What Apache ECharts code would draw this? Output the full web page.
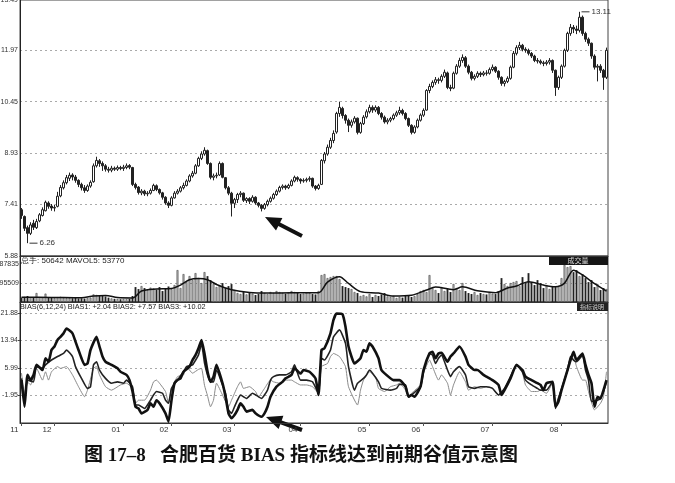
<!DOCTYPE html>
<html><head><meta charset="utf-8">
<script src="https://cdn.jsdelivr.net/npm/echarts@6/dist/echarts.min.js"></script>
<style>html,body{margin:0;padding:0;background:#fff}#c{width:675px;height:483px}</style>
</head><body><div id="c"></div>
<script>
// [open, close, low, high]
const candles = [
[7.25,7.08,6.98,7.30],[7.05,6.70,6.62,7.08],[6.72,6.55,6.26,6.78],[6.55,6.80,6.50,6.88],[6.85,6.73,6.65,6.95],
[6.72,6.90,6.68,6.98],[6.92,7.10,6.88,7.15],[7.08,7.25,7.05,7.32],[7.22,7.47,7.20,7.52],[7.45,7.35,7.28,7.50],
[7.36,7.30,7.22,7.42],[7.30,7.32,7.20,7.40],[7.35,7.65,7.32,7.78],[7.66,7.91,7.62,7.98],[7.90,8.05,7.85,8.12],
[8.05,8.20,8.00,8.28],[8.18,8.27,8.10,8.35],[8.28,8.22,8.12,8.33],[8.22,8.12,8.05,8.28],[8.12,8.00,7.92,8.15],
[8.00,7.90,7.82,8.05],[7.90,7.82,7.75,7.98],[7.82,7.95,7.78,8.00],[7.95,8.06,7.90,8.12],[8.08,8.55,8.05,8.62],
[8.55,8.71,8.50,8.82],[8.70,8.62,8.52,8.75],[8.62,8.55,8.40,8.68],[8.55,8.45,8.38,8.60],[8.45,8.42,8.35,8.52],
[8.42,8.48,8.36,8.55],[8.48,8.45,8.40,8.53],[8.45,8.50,8.40,8.56],[8.50,8.47,8.42,8.55],[8.47,8.51,8.40,8.58],
[8.50,8.55,8.45,8.62],[8.56,8.51,8.45,8.60],[8.50,8.00,7.95,8.52],[8.00,7.91,7.85,8.05],[7.92,7.76,7.70,7.95],
[7.75,7.80,7.68,7.86],[7.80,7.72,7.66,7.84],[7.72,7.74,7.65,7.80],[7.74,7.82,7.70,7.88],[7.82,7.97,7.80,8.02],
[7.96,7.85,7.80,8.00],[7.85,7.75,7.70,7.88],[7.75,7.62,7.55,7.78],[7.62,7.45,7.40,7.65],[7.45,7.38,7.30,7.50],
[7.38,7.60,7.35,7.65],[7.60,7.74,7.58,7.80],[7.74,7.80,7.70,7.86],[7.80,7.90,7.76,7.95],[7.90,7.97,7.85,8.05],
[7.97,8.10,7.94,8.15],[8.10,8.25,8.06,8.30],[8.25,8.33,8.20,8.40],[8.33,8.55,8.30,8.60],[8.55,8.77,8.52,8.82],
[8.77,8.90,8.72,8.98],[8.90,9.01,8.85,9.10],[9.00,8.62,8.58,9.03],[8.62,8.21,8.15,8.65],[8.21,8.25,8.12,8.32],
[8.25,8.27,8.18,8.35],[8.28,8.62,8.25,8.68],[8.62,8.21,8.18,8.65],[8.20,7.90,7.85,8.22],[7.90,7.74,7.68,7.95],
[7.74,7.44,7.05,7.78],[7.44,7.55,7.30,7.60],[7.55,7.70,7.45,7.75],[7.70,7.74,7.62,7.80],[7.74,7.53,7.48,7.76],
[7.52,7.58,7.45,7.62],[7.58,7.50,7.42,7.62],[7.50,7.62,7.46,7.68],[7.62,7.45,7.40,7.65],[7.45,7.38,7.32,7.48],
[7.38,7.29,7.20,7.42],[7.29,7.40,7.25,7.45],[7.40,7.50,7.35,7.55],[7.50,7.59,7.46,7.64],[7.59,7.70,7.55,7.75],
[7.70,7.80,7.66,7.85],[7.80,7.91,7.76,7.96],[7.91,7.95,7.85,8.00],[7.95,7.90,7.84,7.99],[7.90,7.97,7.86,8.02],
[7.97,8.10,7.94,8.15],[8.10,8.21,8.06,8.26],[8.20,8.15,8.08,8.24],[8.15,8.10,8.02,8.18],[8.10,8.12,8.05,8.18],
[8.12,8.15,8.06,8.20],[8.15,8.18,8.08,8.24],[8.18,7.95,7.90,8.20],[7.95,7.88,7.82,7.98],[7.88,7.97,7.84,8.02],
[8.00,8.71,7.98,8.75],[8.70,8.90,8.62,8.96],[8.90,9.10,8.85,9.18],[9.10,9.30,9.05,9.38],[9.30,9.51,9.22,9.60],
[9.55,10.10,9.50,10.15],[10.10,10.28,10.00,10.45],[10.25,10.04,9.95,10.30],[10.04,9.90,9.80,10.08],[9.90,9.75,9.55,9.95],
[9.75,9.85,9.68,9.92],[9.85,9.96,9.80,10.02],[9.96,9.54,9.48,9.98],[9.54,9.80,9.50,9.85],[9.80,9.99,9.76,10.05],
[10.00,10.15,9.95,10.22],[10.15,10.28,10.10,10.36],[10.28,10.20,10.12,10.34],[10.20,10.28,10.14,10.34],[10.28,10.10,10.05,10.32],
[10.10,9.99,9.92,10.14],[9.99,9.85,9.80,10.04],[9.85,9.90,9.78,9.96],[9.90,9.95,9.84,10.00],[9.95,10.05,9.90,10.10],
[10.05,10.12,10.00,10.18],[10.12,10.19,10.06,10.30],[10.19,10.10,10.04,10.24],[10.10,9.95,9.90,10.14],[9.95,9.75,9.70,9.98],
[9.75,9.54,9.48,9.78],[9.54,9.70,9.50,9.75],[9.70,9.90,9.66,9.95],[9.90,10.05,9.86,10.10],[10.05,10.19,10.00,10.25],
[10.20,10.78,10.18,10.82],[10.78,10.90,10.70,10.98],[10.90,11.02,10.85,11.08],[11.02,11.10,10.95,11.18],[11.10,11.08,10.98,11.16],
[11.08,11.20,11.02,11.26],[11.20,11.32,11.15,11.40],[11.30,10.87,10.82,11.34],[10.87,10.84,10.76,10.95],[10.85,11.29,10.82,11.34],
[11.29,11.50,11.25,11.56],[11.50,11.67,11.45,11.75],[11.67,11.76,11.60,11.85],[11.75,11.50,11.45,11.80],[11.50,11.32,11.26,11.55],
[11.32,11.14,11.08,11.36],[11.14,11.20,11.08,11.26],[11.20,11.29,11.15,11.35],[11.29,11.25,11.18,11.34],[11.25,11.30,11.20,11.36],
[11.30,11.29,11.22,11.38],[11.29,11.40,11.25,11.46],[11.40,11.47,11.35,11.55],[11.47,11.35,11.30,11.50],[11.35,11.17,11.10,11.38],
[11.17,10.99,10.92,11.20],[10.99,11.05,10.90,11.10],[11.05,11.14,11.00,11.20],[11.14,11.47,11.10,11.52],[11.47,11.88,11.44,11.95],
[11.88,12.05,11.82,12.12],[12.05,12.12,11.98,12.22],[12.12,12.00,11.94,12.16],[12.00,11.97,11.90,12.06],[11.97,11.88,11.82,12.02],
[11.88,11.80,11.74,11.92],[11.80,11.67,11.62,11.84],[11.67,11.65,11.58,11.74],[11.65,11.60,11.55,11.70],[11.60,11.58,11.50,11.66],
[11.58,11.62,11.52,11.68],[11.62,11.67,11.55,11.74],[11.67,11.38,11.30,11.70],[11.38,10.87,10.62,11.40],[10.87,11.17,10.80,11.22],
[11.17,11.50,11.12,11.55],[11.50,11.97,11.46,12.02],[11.97,12.47,11.92,12.52],[12.47,12.65,12.40,12.75],[12.65,12.60,12.48,12.72],
[12.60,12.56,12.45,12.70],[12.56,12.95,12.50,13.11],[12.95,12.47,12.40,13.00],[12.47,12.30,12.22,12.52],[12.30,12.18,12.10,12.35],
[12.18,11.80,11.72,12.20],[11.80,11.47,11.40,11.85],[11.47,11.50,11.05,11.56],[11.50,11.38,11.30,11.56],[11.38,11.17,10.80,11.42],
[11.17,11.97,11.12,12.05]
];
const volumes = [
22000,26000,30000,24000,22000,45000,24000,23000,42000,25000,22000,20000,24000,26000,22000,20000,21000,19000,20000,18000,
19000,17000,20000,22000,38000,35000,32000,30000,28000,22000,18000,16000,15000,14000,15000,14000,16000,30000,
75000,65000,80000,70000,60000,72000,68000,62000,75000,55000,70000,78000,65000,
85000,160000,70000,140000,100000,130000,110000,145000,120000,95000,150000,130000,
110000,90000,75000,85000,95000,70000,80000,90000,
60000,45000,40000,50000,38000,45000,42000,35000,40000,55000,45000,40000,50000,45000,55000,50000,45000,42000,48000,55000,50000,45000,40000,42000,48000,45000,40000,38000,55000,
135000,140000,120000,125000,130000,130000,115000,
80000,75000,70000,65000,50000,
45000,30000,35000,28000,40000,25000,35000,30000,38000,45000,28000,25000,30000,20000,25000,22000,30000,35000,25000,30000,
40000,55000,60000,50000,135000,
70000,60000,45000,75000,55000,65000,50000,90000,70000,60000,95000,
55000,45000,40000,50000,35000,45000,40000,38000,50000,42000,40000,55000,
120000,90000,80000,95000,100000,105000,80000,125000,95000,145000,100000,85000,110000,95000,
70000,85000,65000,80000,75000,80000,
120000,186000,175000,180000,150000,160000,130000,
140000,120000,100000,110000,75000,90000,60000,70000,65000
];
// [day index, value] read at the line's vertices
const mavol5 = [[0,24000],[10,23000],[20,21000],[24,30000],[28,33000],[32,22000],[37,20000],[40,55000],[45,65000],[50,68000],[53,85000],[56,112000],[59,118000],[62,112000],[65,88000],[70,62000],[76,48000],[82,45000],[90,46000],[99,47000],[102,100000],[106,127000],[109,93000],[113,52000],[119,45000],[124,30000],[130,34000],[135,60000],[138,75000],[144,62000],[147,76000],[152,56000],[158,47000],[162,70000],[165,80000],[169,102000],[174,85000],[178,77000],[181,95000],[184,160000],[187,136000],[191,92000],[195,55000]];
const bias3 = [[0,2.5],[1,-5.2],[2,4.0],[3,2.5],[4,4.0],[5,6.9],[7,5.4],[8,8.8],[9,7.8],[10,11.2],[11,12.2],[12,14.1],[13,15.0],[14,16.0],[15,17.4],[17,16.0],[18,13.6],[19,11.2],[20,8.8],[21,6.9],[22,7.3],[23,11.2],[25,15.0],[26,12.2],[27,9.3],[28,7.8],[30,6.9],[32,5.9],[33,4.9],[35,4.0],[36,2.5],[37,-0.8],[38,-5.2],[39,-5.7],[40,-7.1],[42,-6.1],[43,-4.2],[44,-5.2],[45,-3.3],[46,-4.2],[48,-7.1],[49,-9.5],[50,-3.3],[51,1.6],[52,2.5],[53,3.0],[54,4.9],[56,6.4],[57,8.3],[58,9.7],[59,11.7],[60,14.1],[61,10.2],[62,5.0],[63,2.0],[64,3.5],[65,6.9],[67,1.6],[68,-2.3],[69,-7.1],[70,-8.5],[71,-7.6],[72,-6.1],[73,-4.2],[74,-5.2],[75,-6.6],[77,-6.1],[78,-7.1],[80,-8.1],[81,-7.1],[82,-5.2],[83,-2.3],[85,0.6],[87,2.0],[88,3.0],[90,4.0],[91,5.9],[93,4.4],[94,5.4],[96,4.9],[98,3.0],[99,-1.8],[100,11.2],[101,11.7],[103,16.0],[104,19.9],[105,21.7],[107,21.5],[108,17.9],[109,12.2],[111,7.3],[113,8.8],[114,11.2],[115,10.7],[116,13.1],[117,12.2],[119,8.8],[120,5.4],[123,3.0],[124,2.5],[126,2.5],[128,0.6],[129,-2.3],[130,-1.8],[131,-2.3],[133,0.6],[134,5.4],[136,10.2],[137,10.7],[138,8.8],[139,10.2],[140,10.4],[142,7.8],[143,9.3],[144,10.2],[146,12.2],[148,9.3],[149,6.9],[151,5.4],[152,5.4],[154,4.0],[155,3.5],[157,2.5],[159,1.1],[160,-1.8],[161,-0.4],[163,3.0],[165,6.9],[167,5.4],[168,3.5],[170,2.5],[172,1.6],[173,1.1],[174,-0.4],[175,1.6],[177,2.0],[178,-5.2],[179,-3.7],[180,-0.4],[182,5.4],[183,8.3],[184,10.7],[185,8.3],[187,10.2],[188,6.9],[189,4.0],[190,1.6],[191,-5.2],[192,-2.3],[193,-2.8],[194,-0.4],[195,2.5]];
const bias2 = [[0,3.0],[1,-3.3],[2,2.5],[4,2.0],[5,6.4],[7,5.9],[8,6.9],[10,8.3],[12,9.3],[14,10.2],[15,11.2],[17,9.3],[18,6.4],[20,3.0],[22,0.1],[23,0.6],[24,6.9],[25,7.8],[26,5.4],[28,3.0],[30,1.6],[32,2.0],[34,1.6],[35,2.5],[37,0.6],[38,-4.7],[39,-4.7],[41,-5.7],[43,-3.3],[44,-1.8],[45,-0.8],[47,-1.3],[48,-3.3],[49,-4.2],[50,0.1],[52,2.5],[54,4.9],[55,6.4],[57,6.9],[59,9.8],[60,13.0],[61,7.5],[62,4.0],[63,2.0],[64,2.0],[65,5.4],[67,1.1],[68,-1.3],[69,-6.1],[70,-7.1],[71,-5.2],[72,-3.3],[73,-1.8],[74,-2.3],[75,-2.8],[77,-1.3],[79,-2.3],[80,-2.8],[82,-0.4],[83,2.5],[84,3.5],[86,4.0],[88,4.0],[90,4.9],[91,6.9],[93,2.5],[95,2.5],[97,2.0],[99,-1.3],[100,8.8],[101,8.3],[103,11.2],[104,15.0],[106,17.0],[108,13.1],[109,6.4],[111,-0.4],[112,1.6],[114,3.0],[115,4.0],[116,5.4],[117,4.5],[119,2.0],[120,0.1],[123,-0.4],[125,0.1],[126,1.3],[128,1.1],[129,-2.3],[130,-1.8],[133,0.6],[134,4.9],[136,10.2],[137,9.7],[138,7.3],[139,8.8],[140,9.7],[142,5.4],[143,3.5],[144,4.9],[146,6.4],[148,4.0],[149,0.6],[151,0.1],[153,0.6],[155,0.6],[157,0.1],[159,-1.8],[161,0.1],[163,3.5],[165,6.9],[167,4.9],[168,2.5],[170,1.1],[172,0.1],[173,-0.4],[175,-0.4],[177,2.0],[178,-5.7],[179,-2.8],[182,5.4],[183,9.3],[184,8.3],[185,7.8],[187,9.7],[188,5.4],[189,2.5],[190,-3.7],[192,-3.3],[193,-2.8],[194,-0.8],[195,2.0]];
const bias1 = [[0,4.5],[1,-1.3],[2,2.0],[3,1.1],[4,3.5],[5,5.9],[7,2.5],[8,4.9],[9,2.5],[10,4.9],[12,6.4],[13,5.9],[15,6.4],[17,4.0],[19,0.6],[21,-2.3],[22,-0.4],[24,5.9],[25,6.4],[26,4.0],[28,0.6],[30,-0.4],[33,1.1],[35,1.6],[37,0.1],[38,-4.2],[39,-3.3],[41,-3.3],[43,-0.4],[44,2.0],[45,2.5],[46,1.6],[48,-0.8],[49,-4.2],[50,0.1],[52,3.5],[54,4.0],[55,6.4],[57,4.5],[59,5.6],[60,5.9],[61,1.0],[62,-2.0],[63,-5.2],[64,-3.3],[65,1.6],[67,-1.8],[68,-3.7],[69,-5.2],[70,-3.3],[72,0.6],[73,2.0],[74,0.1],[76,0.6],[78,-0.8],[79,-2.3],[81,0.1],[83,2.5],[84,2.0],[86,1.6],[88,2.5],[90,2.5],[91,2.0],[93,1.1],[95,1.1],[97,0.6],[99,-1.3],[100,6.4],[102,7.3],[103,9.3],[104,10.2],[106,9.3],[108,6.4],[109,0.6],[112,-4.7],[113,-0.4],[114,2.5],[116,4.9],[118,3.5],[119,0.1],[121,-0.8],[123,0.6],[125,1.1],[126,1.6],[128,-0.4],[129,-2.3],[130,-1.3],[133,1.1],[134,4.5],[136,8.3],[137,6.4],[139,2.5],[140,4.0],[142,1.6],[143,-1.8],[144,1.1],[146,4.9],[148,2.0],[149,-0.4],[151,0.6],[153,0.1],[155,0.6],[157,0.1],[159,-1.8],[161,0.1],[163,3.0],[165,6.9],[167,4.5],[168,1.1],[170,-0.8],[172,-0.8],[173,-0.4],[175,-1.3],[177,1.6],[178,-4.7],[179,-2.3],[182,4.9],[183,7.8],[184,9.7],[185,6.4],[187,2.5],[188,2.5],[189,-0.8],[191,-6.1],[193,-4.2],[194,-2.3],[195,4.9]];
const monthLabels = ['11','12','01','02','03','04','05','06','07','08'];
const monthStart = [0,11,34,50,71,93,116,134,157,180];
const priceTicks = [5.88,7.41,8.93,10.45,11.97,13.46];
const priceTickLabels = ['5.88','7.41','8.93','10.45','11.97','13.49'];
const volTicks = [95509,191018];
const volTickLabels = ['95509','87835'];
const biasTicks = [-1.95,5.99,13.94,21.88];
const biasTickLabels = ['-1.95','5.99','13.94','21.88'];
const lowMark = {day:2, value:6.26, label:'6.26'};
const highMark = {day:186, value:13.11, label:'13.11'};

const categories = candles.map((c,i)=>String(i));
const FONT = 'Liberation Sans, Arial, sans-serif';
const axisLabelBase = {fontSize:7, color:'#333', fontFamily:FONT, margin:2};
const dotted = {show:true, lineStyle:{color:'#aaa', type:[2,3], width:1}};

function mkX(gi, showLabel){
  return {
    type:'category', gridIndex:gi, data:categories, boundaryGap:true,
    axisLine:{show:true, onZero:false, lineStyle:{color:'#333', width:1}},
    axisTick:{show:showLabel, alignWithLabel:true, length:3, interval:(i)=>monthStart.includes(i), lineStyle:{color:'#555'}},
    axisLabel:showLabel ? {show:true, interval:(i)=>monthStart.includes(i), fontSize:8, color:'#333', fontFamily:FONT, align:'right', padding:[0,3,0,0], margin:3,
      formatter:(v,i)=>monthLabels[monthStart.indexOf(i)]} : {show:false},
    splitLine:{show:false}
  };
}
const volData = volumes.map((v,i)=>{
  const up = candles[i][1] >= candles[i][0];
  return {value:v, itemStyle: up ? {color:'#b5b5b5', borderColor:'#333', borderWidth:0.5} : {color:'#222'}};
});
const chart = echarts.init(document.getElementById('c'), null, {renderer:'canvas'});
chart.setOption({
  animation:false,
  backgroundColor:'#fff',
  grid:[
    {left:20, width:588, top:0, height:256, show:true, borderColor:'#444', borderWidth:1, outerBoundsMode:'none'},
    {left:20, width:588, top:256, height:46, show:true, borderColor:'#444', borderWidth:1, outerBoundsMode:'none'},
    {left:20, width:588, top:302, height:121, show:true, borderColor:'#333', borderWidth:1, outerBoundsMode:'none'}
  ],
  xAxis:[mkX(0,false), mkX(1,false), mkX(2,true)],
  yAxis:[
    {type:'value', gridIndex:0, min:5.88, max:13.46, scale:true,
      axisLine:{show:true, lineStyle:{color:'#222'}},
      axisTick:{show:false, customValues:[7.41,8.93,10.45,11.97]},
      axisLabel:Object.assign({}, axisLabelBase, {customValues:priceTicks, formatter:(v)=>priceTickLabels[priceTicks.indexOf(v)]}),
      splitLine:dotted},
    {type:'value', gridIndex:1, min:0, max:231000,
      axisLine:{show:true, lineStyle:{color:'#222'}},
      axisTick:{show:false, customValues:[95509]},
      axisLabel:Object.assign({}, axisLabelBase, {customValues:volTicks, margin:1, formatter:(v)=>volTickLabels[volTicks.indexOf(v)]}),
      splitLine:dotted},
    {type:'value', gridIndex:2, min:-9.89, max:25.06,
      axisLine:{show:true, lineStyle:{color:'#222'}},
      axisTick:{show:true, length:2, customValues:biasTicks, lineStyle:{color:'#444'}},
      axisLabel:Object.assign({}, axisLabelBase, {customValues:biasTicks, formatter:(v)=>biasTickLabels[biasTicks.indexOf(v)]}),
      splitLine:dotted}
  ],
  series:[
    {type:'candlestick', xAxisIndex:0, yAxisIndex:0, data:candles, barWidth:'62%',
      itemStyle:{color:'#ffffff', color0:'#222', borderColor:'#222', borderColor0:'#222', borderWidth:1},
      markPoint:{
        symbol:'rect', symbolSize:[8,1], symbolOffset:[6,0], silent:true,
        itemStyle:{color:'#333'},
        label:{show:true, position:'right', distance:2, fontSize:8, color:'#333', fontFamily:FONT},
        data:[
          {coord:[lowMark.day, lowMark.value], value:lowMark.value, label:{formatter:lowMark.label}},
          {coord:[highMark.day, highMark.value], value:highMark.value, label:{formatter:highMark.label}}
        ]
      }},
    {type:'bar', xAxisIndex:1, yAxisIndex:1, data:volData, barWidth:'62%'},
    {type:'line', xAxisIndex:1, yAxisIndex:1, data:mavol5, symbol:'none', smooth:0.3, lineStyle:{color:'#111', width:1.5}},
    {type:'line', xAxisIndex:2, yAxisIndex:2, data:bias1, symbol:'none', smooth:0.15, lineStyle:{color:'#8a8a8a', width:1}},
    {type:'line', xAxisIndex:2, yAxisIndex:2, data:bias2, symbol:'none', smooth:0.15, lineStyle:{color:'#222', width:1.6}},
    {type:'line', xAxisIndex:2, yAxisIndex:2, data:bias3, symbol:'none', smooth:0.15, lineStyle:{color:'#111', width:2.6}}
  ],
  graphic:[
    {type:'text', x:21, y:257, style:{text:'总手: 50642 MAVOL5: 53770', font:'8px '+FONT, fill:'#222'}},
    {type:'rect', shape:{x:549, y:256, width:59, height:9}, style:{fill:'#151515'}},
    {type:'text', x:578, y:256.5, style:{text:'成交量', font:'7px "Noto Sans CJK SC"', fill:'#ddd', textAlign:'center'}},
    {type:'text', x:20, y:303, style:{text:'BIAS(6,12,24) BIAS1: +2.04 BIAS2: +7.57 BIAS3: +10.02', font:'7.3px '+FONT, fill:'#222'}},
    {type:'rect', shape:{x:577, y:303, width:31, height:8}, style:{fill:'#222'}},
    {type:'text', x:592, y:303.5, style:{text:'指标说明', font:'6px "Noto Sans CJK SC"', fill:'#ccc', textAlign:'center'}},
    {type:'polygon', shape:{points:[[265,217],[282.4,218.1],[280.1,222.5],[302.9,234.2],[301.1,237.8],[278.3,226.1],[276.0,230.5]]}, style:{fill:'#111'}},
    {type:'polygon', shape:{points:[[266,417],[283.4,415.8],[281.7,420.5],[302.7,428.1],[301.3,431.9],[280.3,424.3],[278.6,429.0]]}, style:{fill:'#111'}},
    {type:'text', x:301, y:447, style:{text:'图 17–8   合肥百货 BIAS 指标线达到前期谷值示意图', font:'bold 19px "Liberation Serif", "Noto Sans CJK SC", serif', fill:'#111', textAlign:'center'}}
  ]
});
</script></body></html>
